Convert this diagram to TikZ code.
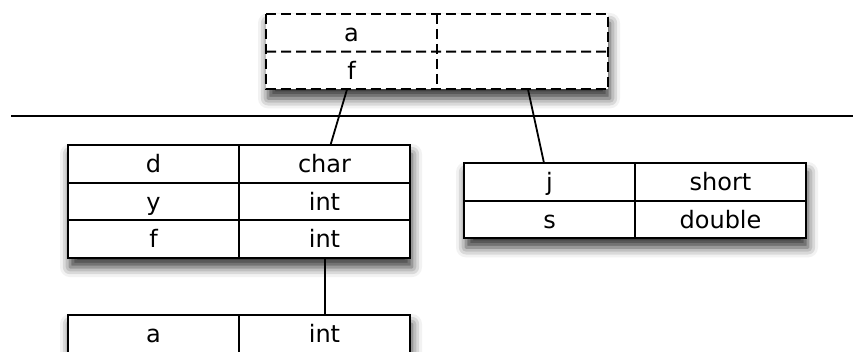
\documentclass[tikz,border=0pt]{standalone}
\usepackage{fontspec}
\setmainfont{DejaVu Sans}
\usetikzlibrary{shadows.blur,fit,backgrounds,calc}
\begin{document}
\begin{tikzpicture}[x=1pt,y=-1pt,
  cellnd/.style={line width=1.8pt, minimum width=171pt, minimum height=37.7pt,
    inner sep=0pt, outer sep=0pt, anchor=north west, text height=17.5pt, text depth=0pt,
    font=\fontsize{24}{27}\selectfont},
  cell/.style={cellnd, draw},
  dline/.style={dash pattern=on 10pt off 5pt, line width=2pt},
  tablebg/.style={inner sep=0pt, outer sep=0pt, fill=white,
    blur shadow={shadow xshift=2pt, shadow yshift=-9pt, shadow blur radius=10pt, shadow opacity=80}},
  link/.style={line width=1.8pt}]
\useasboundingbox (0,0) rectangle (853,352);
\clip (0,0) rectangle (853,352);
% top (dashed) table
\node[cellnd] (ta1) at (266,14) {a};
\node[cellnd] (ta2) at (437,14) {};
\node[cellnd] (tf1) at (266,51.7) {f};
\node[cellnd] (tf2) at (437,51.7) {};
\draw[dline] (ta1.north west) rectangle (tf2.south east);
\draw[dline] (ta1.south west) -- (tf2.north east);
\draw[dline] (ta1.north east) -- (tf2.south west);
% left table
\node[cell] (ld1) at (68,145) {d};
\node[cell] (ld2) at (239,145) {char};
\node[cell] (ly1) at (68,182.7) {y};
\node[cell] (ly2) at (239,182.7) {int};
\node[cell] (lf1) at (68,220.4) {f};
\node[cell] (lf2) at (239,220.4) {int};
% right table
\node[cell] (rj1) at (464,163) {j};
\node[cell] (rj2) at (635,163) {short};
\node[cell] (rs1) at (464,200.7) {s};
\node[cell] (rs2) at (635,200.7) {double};
% bottom table
\node[cell] (ba1) at (68,315) {a};
\node[cell] (ba2) at (239,315) {int};
% shadows
\begin{scope}[on background layer]
  \node[tablebg, fit=(ta1)(tf2)] (topbox) {};
  \node[tablebg, fit=(ld1)(lf2)] (leftbox) {};
  \node[tablebg, fit=(rj1)(rs2)] (rightbox) {};
  \node[tablebg, fit=(ba1)(ba2)] (bottombox) {};
\end{scope}
% separator line
\coordinate (hl) at (11,116);
\coordinate (hr) at (853,116);
\draw[link] (hl) -- (hr);
% connectors
\draw[link] ([xshift=-4.5pt]tf1.south) -- ([xshift=6pt]ld2.north);
\draw[link] ([xshift=5.5pt]tf2.south) -- ([xshift=-5.5pt]rj1.north);
\draw[link] ([xshift=0.5pt]lf2.south) -- ([xshift=0.5pt]ba2.north);
\end{tikzpicture}
\end{document}
